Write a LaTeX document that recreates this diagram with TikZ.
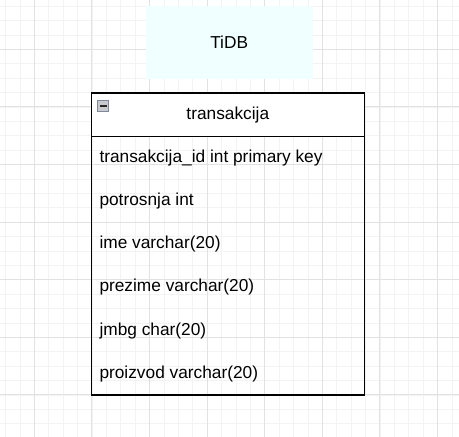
\documentclass[tikz,border=0pt]{standalone}
\usepackage{fontspec}
\setmainfont{Liberation Sans}
\usetikzlibrary{positioning}
\definecolor{minorgrid}{RGB}{243,243,243}
\definecolor{majorgrid}{RGB}{226,226,226}
\definecolor{tidbfill}{RGB}{240,255,255}
\definecolor{iconfill}{RGB}{200,202,208}
\definecolor{iconedge}{RGB}{128,136,156}
\tikzset{
  minorline/.style={draw=minorgrid, line width=0.8pt},
  majorline/.style={draw=majorgrid, line width=0.9pt},
  fieldtext/.style={anchor=west, inner sep=0pt, font=\fontsize{17.3}{20}\selectfont},
  titletext/.style={inner sep=0pt, font=\fontsize{17.3}{20}\selectfont}
}
\newcommand{\minusicon}{\draw[fill=iconfill, draw=iconedge, line width=0.8pt] (0,0) rectangle (11.4,11.7);
					\draw[line width=1.6pt, black!85] (2.2,5.85) -- (9.2,5.85);}
\begin{document}
\begin{tikzpicture}[x=1pt, y=-1pt]
				\useasboundingbox (0,0) rectangle (459,437);
				\fill[white] (0,0) rectangle (459,437);

					% grid
					\foreach \i in {0,...,31}
						\draw[minorline] ({5.5+14.4*\i},0) -- ++(0,437);
					\foreach \j in {0,...,30}
						\draw[minorline] (0,{6.1+14.4*\j}) -- ++(459,0);
					\foreach \i in {0,...,7}
						\draw[majorline] ({34.3+57.6*\i},0) -- ++(0,437);
					\foreach \j in {0,...,7}
						\draw[majorline] (0,{49.3+57.6*\j}) -- ++(459,0);

					% TiDB label box
					\fill[tidbfill] (145.7,5.7) rectangle (312.7,79.3);
					\node[titletext] (tidb) at (229.2,42.5) {TiDB};

					% table
					\fill[white] (91.3,93) rectangle (364.3,136.2);
					\coordinate (tnw) at (91.3,93);
					\coordinate (tse) at (364.3,395);
					\draw[line width=1.4pt] (tnw) rectangle (tse);
					\draw[line width=1.4pt] (91.3,136.2) -- (364.3,136.2);
					\node[titletext] (tname) at (227.8,114.6) {transakcija};

					\begin{scope}[xshift = 97.3pt, yshift = -100pt]
						\minusicon
					\end{scope}

					% fields
					\node[fieldtext] (f1) at (99.3,157.8) {transakcija\_id int primary key};
					\node[fieldtext] (f2) at (99.3,201.0) {potrosnja int};
					\node[fieldtext] (f3) at (99.3,244.2) {ime varchar(20)};
					\node[fieldtext] (f4) at (99.3,287.4) {prezime varchar(20)};
					\node[fieldtext] (f5) at (99.3,330.6) {jmbg char(20)};
					\node[fieldtext] (f6) at (99.3,373.8) {proizvod varchar(20)};

				\end{tikzpicture}
\end{document}
